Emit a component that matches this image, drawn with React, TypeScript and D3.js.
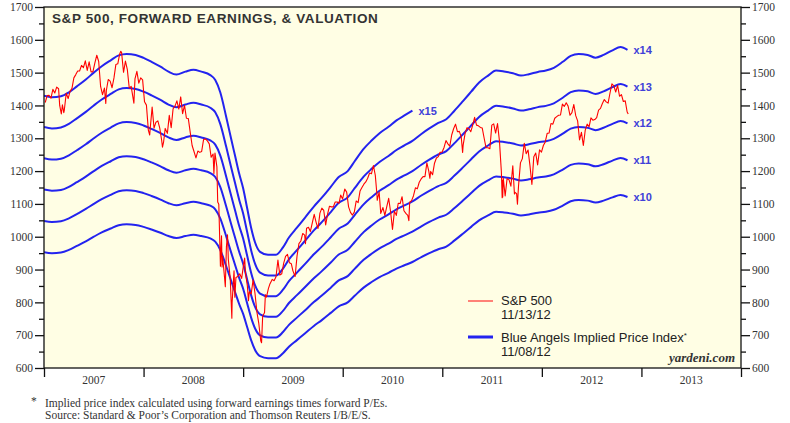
import { useEffect, useRef } from 'react';
import * as d3 from 'd3';

// year bands on the x axis
const yearLabels = ['2007', '2008', '2009', '2010', '2011', '2012', '2013'];

// P/E multiples for the Blue Angels lines, and where each line stops
const multiples = [10, 11, 12, 13, 14, 15];
const multipleLastYear = [2012.86, 2012.86, 2012.86, 2012.86, 2012.86, 2010.7];

// forward earnings (decimal year, $ per share)
const forwardEarnings: [number, number][] = [
  [2007.0, 95.3], [2007.08, 95.0], [2007.17, 95.2], [2007.25, 96.0], [2007.33, 97.2],
  [2007.42, 98.6], [2007.5, 100.0], [2007.58, 101.3], [2007.67, 102.5], [2007.75, 103.5],
  [2007.83, 103.8], [2007.92, 103.6], [2008.0, 103.0], [2008.08, 102.2], [2008.17, 101.2],
  [2008.25, 100.2], [2008.33, 99.6], [2008.42, 100.2], [2008.5, 100.6], [2008.58, 100.2],
  [2008.67, 99.5], [2008.72, 98.5], [2008.77, 96.0], [2008.83, 91.0], [2008.88, 86.5],
  [2008.92, 83.0], [2008.96, 79.5], [2009.0, 76.5], [2009.04, 72.5], [2009.08, 68.5],
  [2009.12, 65.5], [2009.17, 63.6], [2009.25, 63.0], [2009.33, 63.0], [2009.4, 64.5],
  [2009.46, 66.5], [2009.54, 68.5], [2009.62, 70.5], [2009.71, 72.8], [2009.79, 74.6],
  [2009.88, 76.8], [2009.96, 78.8], [2010.05, 80.0], [2010.12, 82.0], [2010.21, 84.5],
  [2010.29, 86.2], [2010.37, 87.7], [2010.46, 89.0], [2010.54, 90.3], [2010.62, 91.3],
  [2010.7, 92.3], [2010.79, 93.8], [2010.87, 95.0], [2010.96, 96.2], [2011.04, 97.0],
  [2011.12, 98.8], [2011.21, 101.0], [2011.29, 103.0], [2011.37, 105.0], [2011.46, 106.5],
  [2011.54, 107.6], [2011.62, 107.4], [2011.71, 107.0], [2011.79, 106.5], [2011.87, 106.8],
  [2011.96, 107.3], [2012.04, 107.6], [2012.12, 108.2], [2012.21, 109.5], [2012.29, 110.8],
  [2012.37, 111.2], [2012.46, 111.0], [2012.54, 110.4], [2012.62, 111.0], [2012.71, 112.0],
  [2012.79, 112.7], [2012.86, 112.1],
];

// S&P 500 closes by year (month-day, close)
const spx2007: [string, number][] = [
  ['01-05', 1409], ['01-12', 1430], ['01-19', 1431], ['01-26', 1422], ['02-02', 1449],
  ['02-09', 1438], ['02-16', 1456], ['02-23', 1451], ['02-27', 1400], ['03-02', 1387],
  ['03-05', 1374], ['03-09', 1402], ['03-14', 1378], ['03-16', 1386], ['03-23', 1437],
  ['03-30', 1421], ['04-06', 1443], ['04-13', 1452], ['04-20', 1484], ['04-27', 1494],
  ['05-04', 1505], ['05-11', 1505], ['05-18', 1522], ['05-25', 1515], ['06-01', 1536],
  ['06-08', 1507], ['06-15', 1533], ['06-22', 1502], ['06-29', 1503], ['07-06', 1530],
  ['07-13', 1553], ['07-20', 1534], ['07-27', 1458], ['08-03', 1433], ['08-10', 1453],
  ['08-15', 1406], ['08-17', 1445], ['08-24', 1479], ['08-31', 1474], ['09-07', 1454],
  ['09-14', 1484], ['09-21', 1525], ['09-28', 1527], ['10-05', 1557], ['10-09', 1565],
  ['10-12', 1561], ['10-19', 1501], ['10-26', 1535], ['11-02', 1509], ['11-09', 1453],
  ['11-16', 1458], ['11-26', 1407], ['11-30', 1481], ['12-07', 1504], ['12-14', 1468],
  ['12-21', 1484], ['12-28', 1478],
];
const spx2008: [string, number][] = [
  ['01-04', 1411], ['01-11', 1401], ['01-18', 1325], ['01-23', 1310], ['01-25', 1331],
  ['02-01', 1395], ['02-08', 1331], ['02-15', 1349], ['02-22', 1353], ['02-29', 1331],
  ['03-07', 1294], ['03-10', 1273], ['03-14', 1288], ['03-20', 1330], ['03-28', 1315],
  ['04-04', 1370], ['04-11', 1332], ['04-18', 1390], ['04-25', 1398], ['05-02', 1414],
  ['05-09', 1389], ['05-16', 1426], ['05-23', 1375], ['05-30', 1400], ['06-06', 1361],
  ['06-13', 1360], ['06-20', 1318], ['06-27', 1278], ['07-03', 1262], ['07-11', 1240],
  ['07-18', 1261], ['07-25', 1257], ['08-01', 1260], ['08-08', 1296], ['08-15', 1298],
  ['08-22', 1292], ['08-29', 1283], ['09-05', 1242], ['09-12', 1252], ['09-15', 1193],
  ['09-19', 1255], ['09-26', 1213], ['09-29', 1106], ['10-03', 1099], ['10-09', 910],
  ['10-13', 1003], ['10-15', 908], ['10-17', 940], ['10-24', 877], ['10-27', 848],
  ['10-31', 969], ['11-04', 1006], ['11-07', 931], ['11-14', 873], ['11-20', 752],
  ['11-21', 800], ['11-28', 896], ['12-01', 816], ['12-05', 876], ['12-12', 879],
  ['12-19', 887], ['12-26', 873], ['12-31', 903],
];
const spx2009: [string, number][] = [
  ['01-06', 935], ['01-09', 890], ['01-16', 850], ['01-20', 805], ['01-23', 832],
  ['01-30', 826], ['02-06', 869], ['02-13', 827], ['02-20', 770], ['02-27', 735],
  ['03-06', 683], ['03-09', 677], ['03-13', 757], ['03-20', 769], ['03-23', 823],
  ['03-27', 816], ['04-03', 842], ['04-09', 857], ['04-17', 870], ['04-24', 866],
  ['05-01', 878], ['05-08', 929], ['05-15', 883], ['05-22', 887], ['05-29', 919],
  ['06-05', 940], ['06-12', 946], ['06-19', 921], ['06-26', 918], ['07-02', 896],
  ['07-10', 879], ['07-17', 941], ['07-24', 979], ['07-31', 987], ['08-07', 1010],
  ['08-14', 1005], ['08-17', 979], ['08-21', 1026], ['08-28', 1029], ['09-04', 1016],
  ['09-11', 1042], ['09-18', 1068], ['09-25', 1044], ['10-02', 1025], ['10-09', 1072],
  ['10-16', 1087], ['10-23', 1080], ['10-30', 1036], ['11-06', 1069], ['11-13', 1093],
  ['11-20', 1091], ['11-27', 1091], ['12-04', 1106], ['12-11', 1106], ['12-18', 1102],
  ['12-24', 1127], ['12-31', 1115],
];
const spx2010: [string, number][] = [
  ['01-08', 1145], ['01-15', 1136], ['01-22', 1091], ['01-29', 1074], ['02-05', 1066],
  ['02-12', 1075], ['02-19', 1109], ['02-26', 1104], ['03-05', 1139], ['03-12', 1150],
  ['03-19', 1160], ['03-26', 1167], ['04-02', 1178], ['04-09', 1194], ['04-16', 1192],
  ['04-23', 1217], ['04-30', 1187], ['05-06', 1128], ['05-07', 1111], ['05-14', 1136],
  ['05-20', 1071], ['05-28', 1089], ['06-04', 1065], ['06-11', 1092], ['06-18', 1117],
  ['06-25', 1076], ['07-02', 1022], ['07-09', 1078], ['07-16', 1065], ['07-23', 1102],
  ['07-30', 1101], ['08-06', 1122], ['08-13', 1079], ['08-20', 1071], ['08-27', 1065],
  ['08-31', 1049], ['09-03', 1105], ['09-10', 1110], ['09-17', 1125], ['09-24', 1149],
  ['10-01', 1146], ['10-08', 1166], ['10-15', 1176], ['10-22', 1183], ['10-29', 1183],
  ['11-05', 1225], ['11-12', 1200], ['11-16', 1178], ['11-19', 1199], ['11-26', 1189],
  ['12-03', 1224], ['12-10', 1240], ['12-17', 1244], ['12-23', 1257], ['12-31', 1258],
];
const spx2011: [string, number][] = [
  ['01-07', 1272], ['01-14', 1293], ['01-21', 1283], ['01-28', 1276], ['02-04', 1310],
  ['02-11', 1329], ['02-18', 1343], ['02-25', 1320], ['03-04', 1321], ['03-11', 1304],
  ['03-16', 1257], ['03-18', 1279], ['03-25', 1314], ['04-01', 1332], ['04-08', 1329],
  ['04-15', 1320], ['04-21', 1337], ['04-29', 1364], ['05-06', 1340], ['05-13', 1338],
  ['05-20', 1333], ['05-27', 1331], ['06-03', 1300], ['06-10', 1271], ['06-17', 1271],
  ['06-24', 1268], ['07-01', 1340], ['07-08', 1344], ['07-15', 1316], ['07-22', 1345],
  ['07-29', 1292], ['08-05', 1199], ['08-08', 1119], ['08-09', 1172], ['08-10', 1121],
  ['08-12', 1179], ['08-19', 1124], ['08-26', 1177], ['09-02', 1174], ['09-09', 1154],
  ['09-16', 1216], ['09-22', 1130], ['09-23', 1136], ['09-30', 1131], ['10-03', 1099],
  ['10-07', 1155], ['10-14', 1225], ['10-21', 1238], ['10-28', 1285], ['11-04', 1253],
  ['11-11', 1264], ['11-18', 1216], ['11-25', 1159], ['12-02', 1244], ['12-09', 1255],
  ['12-16', 1219], ['12-23', 1265], ['12-30', 1258],
];
const spx2012: [string, number][] = [
  ['01-06', 1278], ['01-13', 1289], ['01-20', 1315], ['01-27', 1316], ['02-03', 1345],
  ['02-10', 1343], ['02-17', 1361], ['02-24', 1366], ['03-02', 1370], ['03-09', 1371],
  ['03-16', 1404], ['03-23', 1397], ['03-30', 1408], ['04-06', 1398], ['04-13', 1370],
  ['04-20', 1378], ['04-27', 1403], ['05-04', 1369], ['05-11', 1353], ['05-18', 1295],
  ['05-25', 1318], ['06-01', 1278], ['06-08', 1325], ['06-15', 1343], ['06-22', 1335],
  ['06-29', 1362], ['07-06', 1355], ['07-13', 1357], ['07-20', 1363], ['07-27', 1386],
  ['08-03', 1391], ['08-10', 1406], ['08-17', 1418], ['08-24', 1411], ['08-31', 1407],
  ['09-07', 1438], ['09-14', 1466], ['09-21', 1460], ['09-28', 1441], ['10-05', 1461],
  ['10-12', 1428], ['10-19', 1433], ['10-26', 1412], ['11-02', 1414], ['11-09', 1380],
  ['11-13', 1374],
];

const spxByYear: [number, [string, number][]][] = [
  [2007, spx2007], [2008, spx2008], [2009, spx2009],
  [2010, spx2010], [2011, spx2011], [2012, spx2012],
];

const W = 790;
const H = 423;
const serif = '"Liberation Serif", "DejaVu Serif", serif';
const sans = '"Liberation Sans", Arial, sans-serif';
const blue = '#2323ef';

// month-day in a given year -> decimal year
const toYear = (year: number, md: string) => {
  const d = new Date(`${year}-${md}T12:00:00Z`).getTime();
  const a = Date.UTC(year, 0, 1);
  const b = Date.UTC(year + 1, 0, 1);
  return year + (d - a) / (b - a);
};

const App = () => {
  const svgRef = useRef<SVGSVGElement>(null);

  useEffect(() => {
    if (!svgRef.current) return;
    const svg = d3.select(svgRef.current);
    svg.selectAll('*').remove();

    const left = 44, right = 741, top = 7, bottom = 368;

    const x = d3.scaleLinear().domain([2007, 2014]).range([left, right]);
    const y = d3.scaleLinear().domain([600, 1700]).range([bottom, top]);

    // plot background
    svg.append('rect')
      .attr('x', left).attr('y', top)
      .attr('width', right - left).attr('height', bottom - top)
      .attr('fill', '#fffee4');

    svg.append('clipPath').attr('id', 'plot-clip')
      .append('rect')
      .attr('x', left).attr('y', top)
      .attr('width', right - left).attr('height', bottom - top);

    const plot = svg.append('g').attr('clip-path', 'url(#plot-clip)');

    // Blue Angels lines
    const line = d3.line<[number, number]>()
      .x(d => x(d[0]))
      .y(d => y(d[1]))
      .curve(d3.curveMonotoneX);

    multiples.forEach((m, i) => {
      const pts = forwardEarnings
        .filter(d => d[0] <= multipleLastYear[i] + 1e-6)
        .map(d => [d[0], d[1] * m] as [number, number]);
      plot.append('path')
        .datum(pts)
        .attr('fill', 'none')
        .attr('stroke', blue)
        .attr('stroke-width', 2)
        .attr('stroke-linejoin', 'round')
        .attr('d', line);

      const last = pts[pts.length - 1];
      svg.append('text')
        .attr('x', x(last[0]) + 6)
        .attr('y', y(last[1]) + 4)
        .style('font-family', sans)
        .style('font-size', '11px')
        .style('font-weight', 'bold')
        .style('fill', '#4040d8')
        .text(`x${m}`);
    });

    // S&P 500
    const spx: [number, number][] = [];
    spxByYear.forEach(([yr, rows]) => {
      rows.forEach(([md, v]) => spx.push([toYear(yr, md), v]));
    });

    plot.append('path')
      .datum(spx)
      .attr('fill', 'none')
      .attr('stroke', '#ff0000')
      .attr('stroke-width', 1.1)
      .attr('stroke-linejoin', 'round')
      .attr('d', d3.line<[number, number]>().x(d => x(d[0])).y(d => y(d[1])));

    // frame
    svg.append('rect')
      .attr('x', left).attr('y', top)
      .attr('width', right - left).attr('height', bottom - top)
      .attr('fill', 'none')
      .attr('stroke', '#111')
      .attr('stroke-width', 1.3);

    // y axes, major and minor ticks
    const majors = d3.range(600, 1701, 100);
    const minors = d3.range(650, 1700, 100);

    const styleAxis = (g: d3.Selection<SVGGElement, unknown, null, undefined>) => {
      g.select('.domain').remove();
      g.selectAll('.tick line').attr('stroke', '#111').attr('stroke-width', 1.3);
      g.selectAll('.tick text')
        .style('font-family', serif)
        .style('font-size', '11.5px')
        .style('fill', '#333');
    };

    svg.append('g')
      .attr('transform', `translate(${left},0)`)
      .call(d3.axisLeft(y).tickValues(majors).tickSize(9).tickPadding(2).tickFormat(d3.format('d')))
      .call(styleAxis);
    svg.append('g')
      .attr('transform', `translate(${left},0)`)
      .call(d3.axisLeft(y).tickValues(minors).tickSize(5).tickFormat(() => ''))
      .call(styleAxis);
    svg.append('g')
      .attr('transform', `translate(${right},0)`)
      .call(d3.axisRight(y).tickValues(majors).tickSize(9).tickPadding(2).tickFormat(d3.format('d')))
      .call(styleAxis);
    svg.append('g')
      .attr('transform', `translate(${right},0)`)
      .call(d3.axisRight(y).tickValues(minors).tickSize(5).tickFormat(() => ''))
      .call(styleAxis);

    // x axis: ticks at year boundaries, labels centred in each year
    svg.append('g')
      .attr('transform', `translate(0,${bottom})`)
      .call(d3.axisBottom(x).tickValues(d3.range(2007, 2015)).tickSize(9).tickFormat(() => ''))
      .call(styleAxis);

    svg.append('g')
      .selectAll('text')
      .data(yearLabels)
      .join('text')
      .attr('x', d => x(+d + 0.5))
      .attr('y', bottom + 16)
      .attr('text-anchor', 'middle')
      .style('font-family', serif)
      .style('font-size', '11.5px')
      .style('fill', '#333')
      .text(d => d);

    // title
    svg.append('text')
      .attr('x', 52)
      .attr('y', 23)
      .style('font-family', sans)
      .style('font-size', '13.5px')
      .style('font-weight', 'bold')
      .style('letter-spacing', '0.6px')
      .style('fill', '#333')
      .text('S&P 500, FORWARD EARNINGS, & VALUATION');

    // legend
    const lg = svg.append('g').style('font-family', sans).style('font-size', '13px').style('fill', '#222');
    lg.append('line').attr('x1', 468).attr('x2', 493).attr('y1', 301).attr('y2', 301)
      .attr('stroke', '#ff3030').attr('stroke-width', 1.2);
    lg.append('text').attr('x', 501).attr('y', 305).text('S&P 500');
    lg.append('text').attr('x', 501).attr('y', 319).text('11/13/12');
    lg.append('line').attr('x1', 468).attr('x2', 493).attr('y1', 337).attr('y2', 337)
      .attr('stroke', blue).attr('stroke-width', 3);
    const t = lg.append('text').attr('x', 501).attr('y', 342);
    t.append('tspan').text('Blue Angels Implied Price Index');
    t.append('tspan').attr('dy', -4).style('font-size', '8px').text('*');
    lg.append('text').attr('x', 501).attr('y', 356).text('11/08/12');

    svg.append('text')
      .attr('x', 735)
      .attr('y', 362)
      .attr('text-anchor', 'end')
      .style('font-family', serif)
      .style('font-size', '13px')
      .style('font-weight', 'bold')
      .style('font-style', 'italic')
      .style('fill', '#333')
      .text('yardeni.com');

    // footnote
    const fn = svg.append('g').style('font-family', serif).style('font-size', '11.5px').style('fill', '#333');
    fn.append('text').attr('x', 31).attr('y', 405).text('*');
    fn.append('text').attr('x', 45).attr('y', 407)
      .text('Implied price index calculated using forward earnings times forward P/Es.');
    fn.append('text').attr('x', 45).attr('y', 419)
      .text('Source: Standard & Poor\u2019s Corporation and Thomson Reuters I/B/E/S.');
  }, []);

  return (
    <svg
      ref={svgRef}
      width={W}
      height={H}
      style={{ position: 'absolute', left: 0, top: 0, background: '#fff' }}
    />
  );
};

export default App;
